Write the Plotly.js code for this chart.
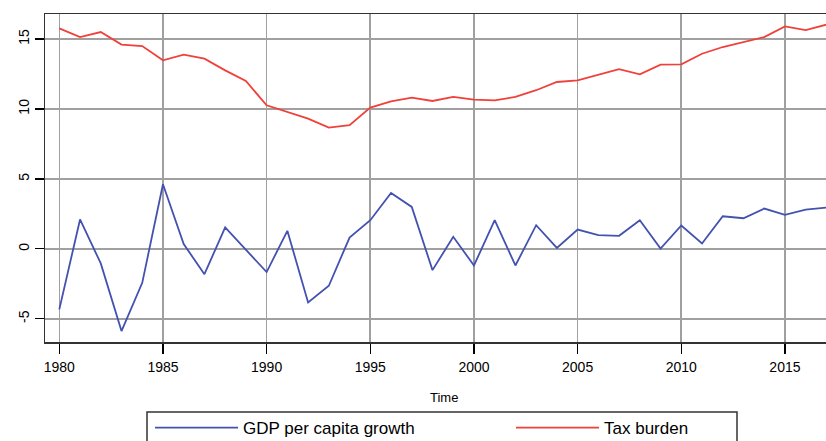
<!DOCTYPE html>
<html>
<head>
<meta charset="utf-8">
<script src="https://cdn.plot.ly/plotly-3.0.1.min.js"></script>
<style>
  html, body { margin: 0; padding: 0; overflow: hidden; background: #fff; }
  #chart { width: 845px; height: 456px; }
</style>
</head>
<body>
<div id="chart"></div>
<script>
const years = [1980, 1981, 1982, 1983, 1984, 1985, 1986, 1987, 1988, 1989,
               1990, 1991, 1992, 1993, 1994, 1995, 1996, 1997, 1998, 1999,
               2000, 2001, 2002, 2003, 2004, 2005, 2006, 2007, 2008, 2009,
               2010, 2011, 2012, 2013, 2014, 2015, 2016, 2017];
const gdpGrowth = [-4.33, 2.10, -1.04, -5.88, -2.43, 4.62, 0.34, -1.81, 1.53, -0.09,
                   -1.66, 1.29, -3.83, -2.64, 0.81, 2.05, 4.00, 3.00, -1.52, 0.86,
                   -1.19, 2.05, -1.19, 1.69, 0.07, 1.38, 0.98, 0.93, 2.05, 0.02,
                   1.67, 0.38, 2.33, 2.19, 2.88, 2.43, 2.81, 2.95];
const taxBurden = [15.76, 15.14, 15.50, 14.60, 14.50, 13.48, 13.88, 13.60, 12.76, 12.00,
                   10.26, 9.78, 9.31, 8.67, 8.84, 10.10, 10.55, 10.81, 10.57, 10.86,
                   10.67, 10.62, 10.86, 11.34, 11.93, 12.05, 12.45, 12.84, 12.48, 13.17,
                   13.19, 13.95, 14.43, 14.76, 15.14, 15.90, 15.64, 16.03];
const seriesNames = ["GDP per capita growth", "Tax burden"];
const xTicks = [1980, 1985, 1990, 1995, 2000, 2005, 2010, 2015];
const yTicks = [-5, 0, 5, 10, 15];
const xTitle = "Time";

const font = "Liberation Sans, Arial, Helvetica, sans-serif";

const traces = [
  { x: years, y: gdpGrowth, name: seriesNames[0], type: "scatter", mode: "lines",
    line: { color: "#4352B0", width: 1.8 } },
  { x: years, y: taxBurden, name: seriesNames[1], type: "scatter", mode: "lines",
    line: { color: "#F0403A", width: 1.8 } }
];

const axisCommon = {
  showline: true, mirror: true, linecolor: "#333", linewidth: 1.5,
  showgrid: true, gridcolor: "#a0a0a0", gridwidth: 1.6,
  zeroline: false, ticks: "outside", tickcolor: "#000", tickwidth: 1.2,
  tickfont: { family: font, size: 14, color: "#000" }
};

// legend frame, in container pixels converted to paper units
const W = 845, H = 456, ML = 45, MR = 2, MT = 14, MB = 114;
const pw = W - ML - MR, ph = H - MT - MB;
const px = v => (v - ML) / pw;
const py = v => (H - MB - v) / ph;

const layout = {
  width: W, height: H,
  margin: { l: ML, r: MR, t: MT, b: MB, autoexpand: false },
  paper_bgcolor: "#fff", plot_bgcolor: "#fff",
  font: { family: font, color: "#000" },
  showlegend: true,
  xaxis: Object.assign({}, axisCommon, {
    range: [1979.31, 2017.8], tickmode: "array", tickvals: xTicks,
    ticktext: xTicks.map(String), ticklen: 10, ticklabelstandoff: 2
  }),
  yaxis: Object.assign({}, axisCommon, {
    range: [-6.66, 16.79], tickmode: "array", tickvals: yTicks,
    ticktext: yTicks.map(String), tickangle: -90, ticklen: 9
  }),
  annotations: [{
    text: xTitle, xref: "paper", yref: "paper", x: 0.5, y: -0.1707,
    xanchor: "center", yanchor: "middle", showarrow: false,
    font: { family: font, size: 13, color: "#000" }
  }],
  shapes: [{
    type: "rect", xref: "paper", yref: "paper",
    x0: px(147), x1: px(737), y0: py(412), y1: py(470),
    line: { color: "#333", width: 1.5 }, fillcolor: "rgba(0,0,0,0)", layer: "above"
  }],
  legend: {
    orientation: "h", xref: "container", yref: "container",
    x: 150 / W, xanchor: "left", y: 1 - 410 / H, yanchor: "top",
    borderwidth: 0, bgcolor: "rgba(0,0,0,0)",
    font: { family: font, size: 17, color: "#000" },
    itemwidth: 83, entrywidth: 263, entrywidthmode: "pixels"
  }
};

Plotly.newPlot("chart", traces, layout, { staticPlot: true, displayModeBar: false });
</script>
</body>
</html>
